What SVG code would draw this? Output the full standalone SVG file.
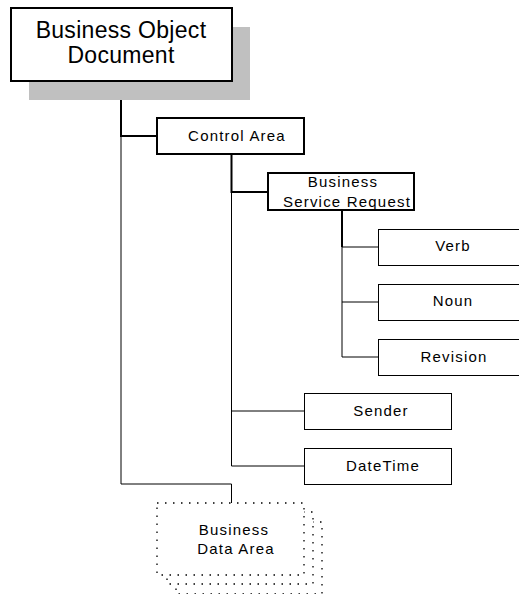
<svg xmlns="http://www.w3.org/2000/svg" width="519" height="594" viewBox="0 0 519 594">
<style>
.bold{fill:#fff;stroke:#000;stroke-width:2}
.thin{fill:#fff;stroke:#000;stroke-width:1}
.dot{fill:#fff;stroke:#000;stroke-width:1.3;stroke-dasharray:1.5 6.5}
.t{font-family:"Liberation Sans",Arial,sans-serif;font-size:15px;letter-spacing:1.2px;text-anchor:middle;fill:#000}
.big{font-family:"Liberation Sans",Arial,sans-serif;font-size:23px;letter-spacing:0.3px;text-anchor:middle;fill:#000}
.c2{fill:none;stroke:#000;stroke-width:2}
.c1{fill:none;stroke:#000;stroke-width:1}
</style>
<rect width="519" height="594" fill="#fff"/>
<g id="connectors">
<polyline class="c2" points="121,81 121,136 157,136"/>
<polyline class="c1" points="121,136 121,484 231.5,484 231.5,503"/>
<polyline class="c2" points="231.5,154 231.5,192 268,192"/>
<polyline class="c1" points="231.5,192 231.5,466 304,466"/>
<line class="c1" x1="231.5" y1="411" x2="304" y2="411"/>
<polyline class="c2" points="342,210 342,247"/>
<polyline class="c1" points="342,247 342,357 378,357"/>
<line class="c1" x1="342" y1="247" x2="378" y2="247"/>
<line class="c1" x1="342" y1="302" x2="378" y2="302"/>
</g>
<g id="bod">
<rect x="29" y="27" width="221" height="73" fill="#c0c0c0"/>
<rect class="bold" x="11" y="8" width="221" height="73"/>
<text class="big" x="121" y="38">Business Object</text>
<text class="big" x="121" y="63">Document</text>
</g>
<g id="control-area">
<rect class="bold" x="157" y="118" width="147" height="36"/>
<text class="t" x="237" y="141">Control Area</text>
</g>
<g id="bsr">
<rect class="bold" x="268" y="173" width="146" height="37"/>
<text class="t" x="343" y="187">Business</text>
<text class="t" x="347" y="206.5">Service Request</text>
</g>
<g id="verb">
<rect class="thin" x="378.5" y="229.5" width="160" height="36"/>
<text class="t" x="453" y="251">Verb</text>
</g>
<g id="noun">
<rect class="thin" x="378.5" y="284.5" width="160" height="36"/>
<text class="t" x="453" y="306">Noun</text>
</g>
<g id="revision">
<rect class="thin" x="378.5" y="339.5" width="160" height="36"/>
<text class="t" x="454" y="361.5">Revision</text>
</g>
<g id="sender">
<rect class="thin" x="304.5" y="393.5" width="147" height="36"/>
<text class="t" x="381" y="416">Sender</text>
</g>
<g id="datetime">
<rect class="thin" x="304.5" y="448.5" width="147" height="36"/>
<text class="t" x="383" y="471">DateTime</text>
</g>
<g id="bda">
<rect class="dot" x="176" y="522" width="146" height="72"/>
<rect class="dot" x="167" y="512" width="146" height="72"/>
<rect class="dot" x="157" y="503" width="147" height="72"/>
<text class="t" x="234" y="535">Business</text>
<text class="t" x="236" y="554">Data Area</text>
</g>
</svg>
